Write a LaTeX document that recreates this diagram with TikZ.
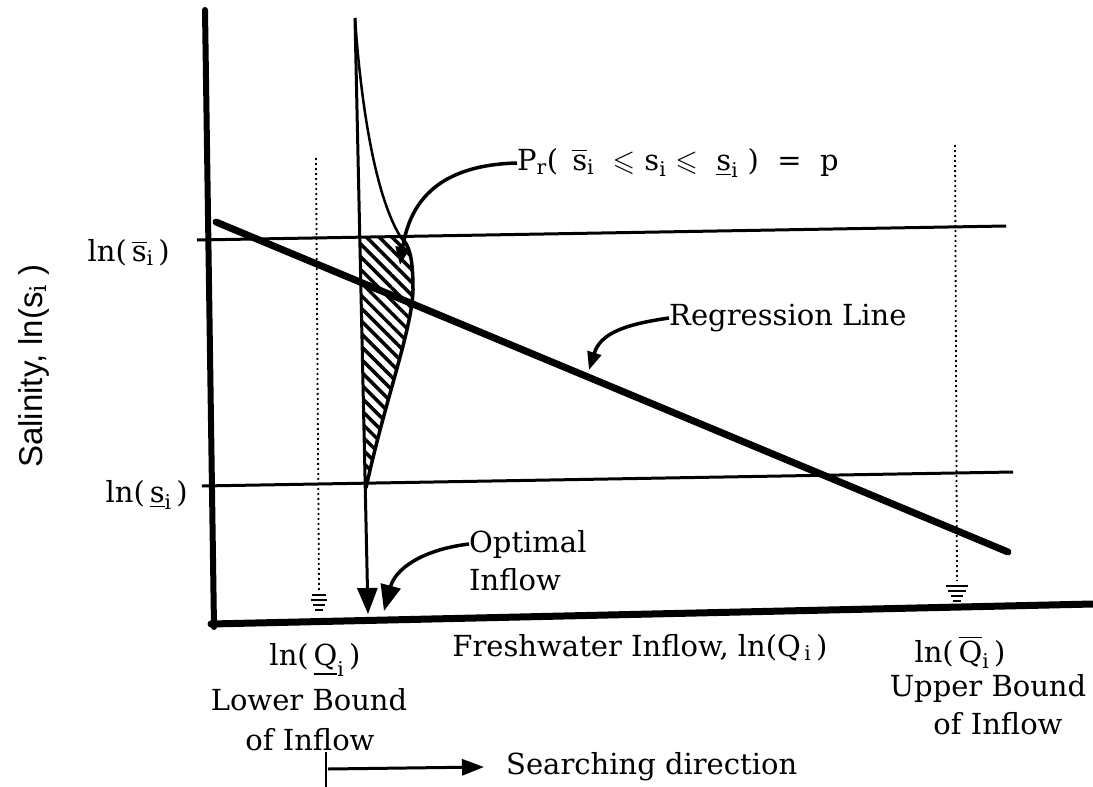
\documentclass[tikz,border=0pt]{standalone}
\usepackage{amssymb}
\usepackage{fontspec}
\setmainfont{DejaVu Serif}
\newfontfamily\labsans{Liberation Sans}
\usetikzlibrary{arrows.meta,patterns.meta}
\tikzset{
  lbl/.style={font=\fontsize{29}{33}\selectfont, inner sep=0pt},
  axisline/.style={line width=6pt, line cap=round},
  thinline/.style={line width=3pt},
  regline/.style={line width=7pt, line cap=round},
  dotline/.style={line width=1.8pt, dash pattern=on 2pt off 3pt},
  leader/.style={line width=3.5pt, -{Triangle[length=18pt,width=14pt]}},
  bigtip/.style={-{Triangle[length=26pt,width=20pt]}},
  groundbar/.style={line width=2.5pt},
}
\begin{document}
\begin{tikzpicture}[x=1pt,y=-1pt]
\useasboundingbox (0,0) rectangle (1093,787);
% coordinates
\coordinate (yaxT) at (205,10);
\coordinate (yaxB) at (214,627);
\coordinate (xaxL) at (211,624);
\coordinate (xaxR) at (1093,604);
\coordinate (upL) at (197,240);
\coordinate (upR) at (1006,226);
\coordinate (loL) at (202,486);
\coordinate (loR) at (1013,472);
\coordinate (regL) at (216,222);
\coordinate (regR) at (1008,552);
\coordinate (dTop) at (355,18);
\coordinate (dBot) at (368,614);
\coordinate (lbT) at (316,158);
\coordinate (lbB) at (319,590);
\coordinate (ubT) at (955,145);
\coordinate (ubB) at (957,581);
% hatched region
\path[pattern={Lines[angle=-45,distance=9pt,line width=3.5pt]}]
  (359,237) -- (400,236) .. controls (409,245) and (413,255) .. (413,290)
  .. controls (412,330) and (385,400) .. (366,488) -- cycle;
% density curve
\draw[line width=2.5pt] (dTop) .. controls (362,120) and (378,200) .. (400,236);
\draw[line width=3.5pt] (400,236) .. controls (409,245) and (413,255) .. (413,290)
  .. controls (412,330) and (385,400) .. (366,488);
% horizontal lines
\draw[thinline] (upL) -- (upR);
\draw[thinline] (loL) -- (loR);
% axes
\draw[axisline] (yaxT) -- (yaxB);
\draw[axisline, line width=7pt] (xaxL) -- (xaxR);
% regression line
\draw[regline] (regL) -- (regR);
% vertical optimal line
\draw[line width=3pt, bigtip] (dTop) -- (dBot);
% bound dotted lines with ground symbols
\draw[dotline] (lbT) -- (lbB);
\draw[dotline] (ubT) -- (ubB);
\foreach \w [count=\k] in {7,8,6,4} {
  \draw[groundbar] (319-\w,590+\k*5) -- (319+\w,590+\k*5);
}
\foreach \w [count=\k] in {11,9,6,4} {
  \draw[groundbar] (957-\w,581+\k*5) -- (957+\w,581+\k*5);
}
% labels
\node[lbl, anchor=west] (prlab) at (517,163)
  {P$_\mathrm{r}$(\, $\overline{\mathrm{s}}_\mathrm{i}$ \ $\leqslant$ s$_\mathrm{i}$ $\leqslant$ \ $\underline{\mathrm{s}}_\mathrm{i}$ ) \ = \ p};
\node[lbl, anchor=east] (suplab) at (170,253) {ln(\,$\overline{\mathrm{s}}_\mathrm{i}$\,)};
\node[lbl, anchor=east] (slolab) at (188,495) {ln(\,$\underline{\mathrm{s}}_\mathrm{i}$\,)};
\node[lbl, anchor=west] (reglab) at (669,318) {Regression Line};
\node[lbl, anchor=west] (optlab1) at (469,544) {Optimal};
\node[lbl, anchor=west] (optlab2) at (469,580) {Inflow};
\node[lbl] (xlab) at (640,648) {Freshwater Inflow, ln(Q$_{\,\mathrm{i}}$\,)};
\node[lbl] (lb1) at (315,660) {ln(\,$\underline{\mathrm{Q}}_\mathrm{i}$\,)};
\node[lbl] (lb2) at (309,700) {Lower Bound};
\node[lbl] (lb3) at (310,740) {of Inflow};
\node[lbl] (ub1) at (960,652) {ln(\,$\overline{\mathrm{Q}}_\mathrm{i}$\,)};
\node[lbl] (ub2) at (988,688) {Upper Bound};
\node[lbl] (ub3) at (998,724) {of Inflow};
\node[lbl, anchor=west] (searchlab) at (506,767) {Searching direction};
\node[font=\labsans\fontsize{33}{36}\selectfont, rotate=90, inner sep=0pt] (ylab) at (34,366) {Salinity, ln(s$_\mathrm{i}$\;)};
% leaders
\draw[leader] (prlab.west) .. controls (440,165) and (410,200) .. (400,265);
\draw[leader] (reglab.west) .. controls (620,325) and (600,335) .. (589,370);
\draw[line width=3.5pt, bigtip] (optlab1.west) .. controls (420,550) and (395,570) .. (384,611);
% searching direction
\coordinate (sdStart) at (328,769);
\coordinate (sdBarT) at (326,752);
\coordinate (sdBarB) at (326,787);
\draw[line width=2pt] (sdBarT) -- (sdBarB);
\draw[line width=3pt, -{Triangle[length=22pt,width=16pt]}] (sdStart) -- ([xshift=-22pt]searchlab.west);
\end{tikzpicture}
\end{document}
